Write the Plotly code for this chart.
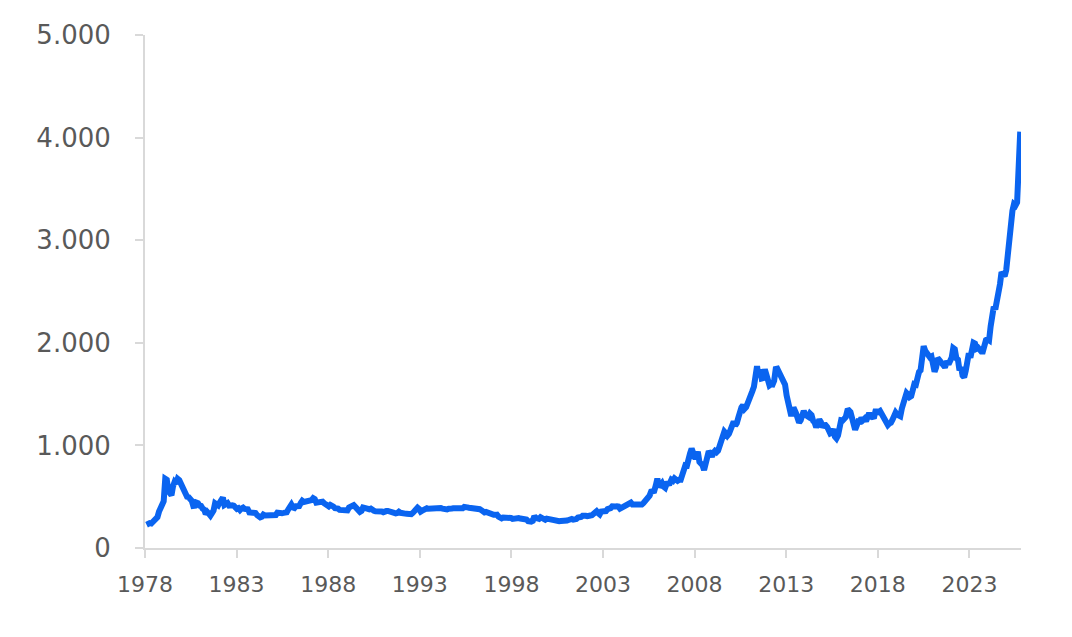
import numpy as np
import pandas as pd
import plotly.graph_objects as go

# monthly gold price (USD/oz), Jan 1979 .. Oct 2025
gold_1979_1989 = [
    227, 246, 242, 239, 258, 279, 295, 301, 355, 392, 393, 455,
    675, 665, 554, 517, 514, 601, 644, 627, 674, 661, 624, 595,
    558, 500, 499, 495, 480, 461, 409, 411, 444, 438, 413, 410,
    384, 374, 330, 351, 334, 315, 339, 364, 436, 422, 415, 444,
    481, 492, 420, 433, 438, 413, 423, 416, 412, 394, 382, 389,
    370, 386, 394, 381, 377, 378, 347, 348, 341, 340, 341, 320,
    303, 299, 304, 325, 317, 317, 317, 330, 323, 326, 325, 322,
    345, 339, 346, 340, 342, 342, 348, 376, 418, 423, 395, 390,
    408, 401, 409, 438, 460, 449, 451, 461, 460, 465, 467, 486,
    477, 442, 444, 452, 451, 452, 437, 431, 413, 406, 420, 419,
    404, 388, 390, 384, 371, 367, 375, 365, 362, 366, 394, 409,
]
gold_1990_1999 = [
    410, 417, 393, 374, 369, 352, 362, 395, 389, 381, 381, 378,
    384, 364, 363, 358, 357, 366, 368, 356, 349, 359, 360, 361,
    354, 354, 345, 338, 337, 341, 353, 343, 345, 344, 335, 334,
    329, 330, 330, 342, 367, 372, 392, 379, 355, 364, 374, 383,
    387, 382, 384, 377, 381, 386, 385, 380, 391, 389, 384, 379,
    379, 376, 382, 391, 385, 387, 386, 383, 383, 383, 386, 387,
    400, 405, 396, 393, 392, 385, 383, 387, 383, 381, 378, 369,
    355, 347, 352, 344, 344, 341, 324, 324, 323, 325, 306, 289,
    289, 297, 296, 308, 299, 292, 293, 284, 289, 296, 294, 291,
    287, 287, 286, 282, 277, 262, 256, 257, 265, 311, 293, 283,
]
gold_2000_2009 = [
    284, 300, 286, 280, 275, 286, 282, 275, 273, 270, 266, 272,
    266, 262, 263, 261, 272, 270, 268, 273, 283, 283, 276, 276,
    282, 296, 294, 302, 314, 321, 314, 310, 319, 317, 319, 333,
    357, 359, 341, 328, 355, 356, 351, 360, 379, 379, 389, 407,
    414, 405, 406, 404, 383, 392, 398, 401, 406, 420, 439, 442,
    424, 423, 434, 429, 422, 431, 424, 437, 456, 470, 476, 510,
    550, 555, 557, 610, 676, 596, 633, 632, 598, 586, 627, 629,
    631, 665, 655, 679, 667, 655, 665, 665, 712, 754, 806, 803,
    889, 922, 968, 909, 888, 889, 939, 839, 829, 806, 760, 816,
    858, 943, 924, 890, 928, 946, 934, 949, 996, 1043, 1127, 1135,
]
gold_2010_2019 = [
    1118, 1095, 1113, 1149, 1205, 1232, 1193, 1215, 1271, 1343, 1370, 1391,
    1356, 1372, 1424, 1474, 1512, 1529, 1572, 1756, 1772, 1665, 1739, 1652,
    1656, 1742, 1674, 1650, 1585, 1596, 1594, 1630, 1744, 1747, 1721, 1688,
    1671, 1627, 1593, 1487, 1414, 1343, 1286, 1347, 1349, 1316, 1275, 1222,
    1244, 1300, 1336, 1299, 1287, 1279, 1311, 1296, 1239, 1222, 1176, 1201,
    1251, 1227, 1179, 1198, 1199, 1181, 1131, 1117, 1125, 1159, 1086, 1068,
    1097, 1200, 1246, 1243, 1260, 1276, 1337, 1341, 1326, 1267, 1238, 1152,
    1192, 1234, 1231, 1267, 1246, 1260, 1237, 1283, 1315, 1280, 1283, 1265,
    1331, 1331, 1325, 1335, 1303, 1282, 1238, 1202, 1199, 1215, 1221, 1250,
    1291, 1320, 1300, 1286, 1284, 1360, 1413, 1500, 1511, 1495, 1471, 1480,
]
gold_2020_2025 = [
    1560, 1597, 1592, 1683, 1716, 1732, 1846, 1968, 1922, 1900, 1866, 1859,
    1867, 1808, 1718, 1760, 1850, 1834, 1807, 1785, 1775, 1777, 1821, 1790,
    1817, 1856, 1948, 1937, 1849, 1837, 1732, 1764, 1681, 1664, 1726, 1798,
    1898, 1855, 1912, 2000, 1992, 1943, 1951, 1918, 1916, 1916, 1986, 2026,
    2034, 2024, 2159, 2332, 2352, 2326, 2398, 2470, 2571, 2690, 2651, 2648,
    2708, 2895, 2983, 3230, 3286, 3352, 3340, 3368, 3665, 4058,
]

year_labels = ["1978", "1983", "1988", "1993", "1998", "2003", "2008", "2013", "2018", "2023"]
y_ticks = [0, 1000, 2000, 3000, 4000, 5000]

prices = gold_1979_1989 + gold_1990_1999 + gold_2000_2009 + gold_2010_2019 + gold_2020_2025
months = pd.date_range("1979-01-01", periods=len(prices), freq="MS")
idx = np.arange(len(prices))

# label spacing as drawn in the source chart (about 58.8 months apart)
step = 58.82
tick_pos = [-1 + step * k for k in range(len(year_labels))]

grey = "#595959"
axis_col = "#D9D9D9"

fig = go.Figure(go.Scatter(x=idx, y=prices,
                           mode="lines",
                           line=dict(color="#0A64F0", width=6),
                           text=months.strftime("%b %Y"),
                           hovertemplate="%{text}: %{y}<extra></extra>"))

# page body adds an 8px offset, margins are trimmed for it
fig.update_layout(width=1072, height=637,
                  margin=dict(l=137, r=59, t=19, b=97, pad=0),
                  paper_bgcolor="white", plot_bgcolor="white",
                  separators=",.",
                  showlegend=False,
                  font=dict(family="DejaVu Sans", color=grey))

fig.update_xaxes(range=[-1, 561.5],
                 tickvals=tick_pos, ticktext=year_labels,
                 showline=True, linecolor=axis_col, linewidth=2,
                 ticks="outside", ticklen=8, tickwidth=2, tickcolor=axis_col,
                 showgrid=False, zeroline=False,
                 ticklabelstandoff=8,
                 tickfont=dict(size=22, color=grey))

fig.update_yaxes(range=[0, 5000],
                 tickvals=y_ticks, tickformat=",.0f",
                 showline=True, linecolor=axis_col, linewidth=2,
                 ticks="outside", ticklen=8, tickwidth=2, tickcolor=axis_col,
                 showgrid=False, zeroline=False,
                 ticklabelstandoff=19,
                 tickfont=dict(size=26, color=grey))

fig.write_html("out.html")
